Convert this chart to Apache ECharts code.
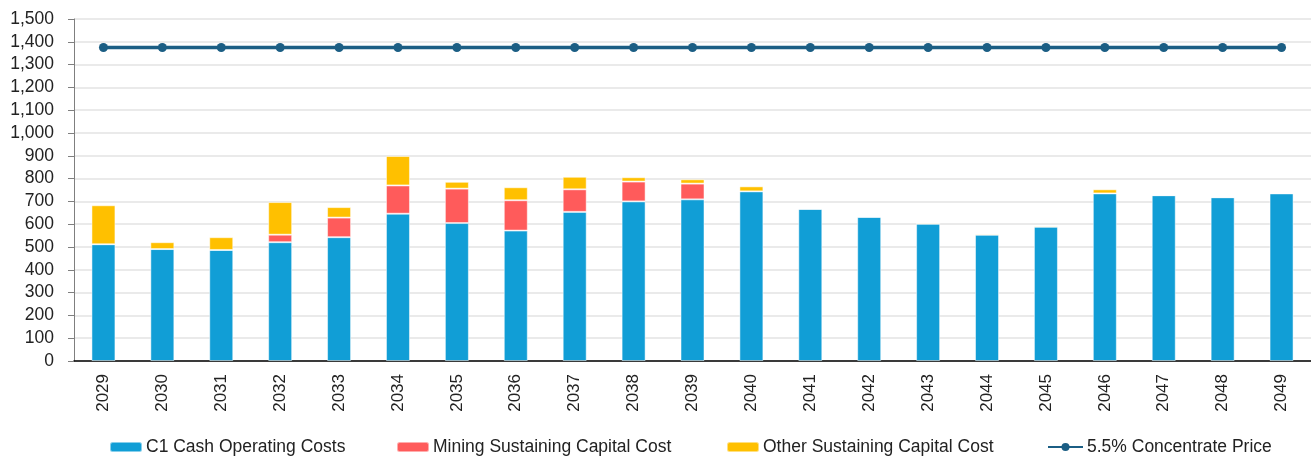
<!DOCTYPE html>
<html>
<head>
<meta charset="utf-8">
<script src="https://cdn.jsdelivr.net/npm/echarts@6/dist/echarts.min.js"></script>
<style>html,body{margin:0;padding:0;background:#fff}#c{width:1311px;height:457px}</style>
</head>
<body>
<div id="c"></div>
<script>
const years = ['2029','2030','2031','2032','2033','2034','2035','2036','2037','2038','2039','2040','2041','2042','2043','2044','2045','2046','2047','2048','2049'];
const c1Cash = [512,491,487,521,543,646,605,572,654,700,709,744,667,632,602,554,589,735,727,718,735];
const miningSustaining = [0,0,0,33,86,124,151,133,99,87,69,0,0,0,0,0,0,0,0,0,0];
const otherSustaining = [171,30,56,143,46,129,30,57,55,19,19,22,4,4,5,5,5,18,0,0,0];
const concentratePrice = [1375,1375,1375,1375,1375,1375,1375,1375,1375,1375,1375,1375,1375,1375,1375,1375,1375,1375,1375,1375,1375];
const seriesNames = ['C1 Cash Operating Costs','Mining Sustaining Capital Cost','Other Sustaining Capital Cost','5.5% Concentrate Price'];

const chart = echarts.init(document.getElementById('c'));
const font = 'Liberation Sans';
const barStyle = (color) => ({ color: color, borderColor: 'rgba(255,255,255,0.5)', borderWidth: 1 });
const legendLefts = [109, 396, 726, 1047];
const legends = seriesNames.map((n, i) => ({
  left: legendLefts[i], top: 438, padding: 0,
  itemWidth: i === 3 ? 35 : 32, itemHeight: 10,
  textStyle: { fontSize: 17.5, color: '#222', fontFamily: font, padding: [0, 0, 0, -1] },
  data: [n]
}));
chart.setOption({
  animation: false,
  textStyle: { fontFamily: font },
  grid: { left: 74, right: 0, top: 19, bottom: 96 },
  legend: legends,
  xAxis: {
    type: 'category', data: years,
    axisLine: { lineStyle: { color: '#000', width: 1.5 } },
    axisTick: { show: false },
    axisLabel: { rotate: 90, fontSize: 17, color: '#222', margin: 13, fontFamily: font }
  },
  yAxis: {
    type: 'value', min: 0, max: 1500, interval: 100,
    axisLine: { show: true, lineStyle: { color: '#7f7f7f' } },
    axisTick: { show: true, length: 6, lineStyle: { color: '#7f7f7f' } },
    axisLabel: { fontSize: 17.5, color: '#222', margin: 20, fontFamily: font,
      formatter: v => v.toLocaleString('en-US') },
    splitLine: { lineStyle: { color: '#e3e3e3', width: 1.5 } }
  },
  series: [
    { name: seriesNames[0], type: 'bar', stack: 's', barWidth: 24, data: c1Cash, itemStyle: barStyle('#119ed6') },
    { name: seriesNames[1], type: 'bar', stack: 's', barWidth: 24, data: miningSustaining, itemStyle: barStyle('#ff5b5b') },
    { name: seriesNames[2], type: 'bar', stack: 's', barWidth: 24, data: otherSustaining, itemStyle: barStyle('#ffc000') },
    { name: seriesNames[3], type: 'line', data: concentratePrice, symbol: 'circle', symbolSize: 9,
      lineStyle: { color: '#1b5e84', width: 3.5 }, itemStyle: { color: '#1b5e84' } }
  ]
});
</script>
</body>
</html>
